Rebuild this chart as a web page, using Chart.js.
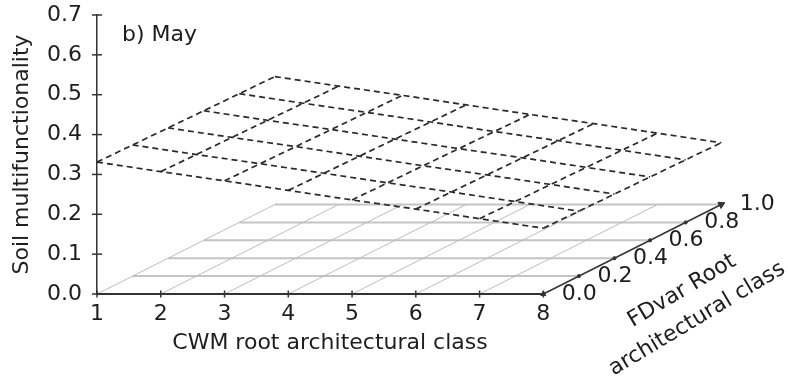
<!DOCTYPE html>
<html>
<head>
<meta charset="utf-8">
<script src="https://cdn.jsdelivr.net/npm/chart.js@4"></script>
<style>
  html, body { margin: 0; padding: 0; background: #fff; }
</style>
</head>
<body>
<canvas id="chart" width="788" height="380"></canvas>
<script>
// values
const cwmClasses = [1, 2, 3, 4, 5, 6, 7, 8];
const fdValues = [0, 0.2, 0.4, 0.6, 0.8, 1.0];
const fdTickLabels = ['0.0', '0.2', '0.4', '0.6', '0.8', '1.0'];
const yTickValues = [0, 0.1, 0.2, 0.3, 0.4, 0.5, 0.6, 0.7];

// fitted surface, one row per FDvar value, one value per CWM class
const mfFd00 = [0.331, 0.307, 0.284, 0.260, 0.236, 0.213, 0.189, 0.165];
const mfFd02 = [0.329, 0.305, 0.282, 0.258, 0.234, 0.211, 0.187, 0.163];
const mfFd04 = [0.327, 0.303, 0.280, 0.256, 0.232, 0.209, 0.185, 0.161];
const mfFd06 = [0.325, 0.301, 0.278, 0.254, 0.230, 0.207, 0.183, 0.159];
const mfFd08 = [0.323, 0.299, 0.276, 0.252, 0.228, 0.205, 0.181, 0.157];
const mfFd10 = [0.321, 0.297, 0.274, 0.250, 0.226, 0.203, 0.179, 0.155];
const surface = [mfFd00, mfFd02, mfFd04, mfFd06, mfFd08, mfFd10];

// oblique projection of the depth (FDvar) axis, in x / y axis units
const DEPTH_DX = 2.79;
const DEPTH_DY = 0.2245;
const project = (c, f, z) => ({ x: c + f * DEPTH_DX, y: z + f * DEPTH_DY });

const FONT = '"DejaVu Sans", sans-serif';
const TEXT = '#1e1e1e';
const AXIS = '#333';

const lineSet = (data, color, width, dash) => ({
  data, showLine: true, borderColor: color, borderWidth: width,
  borderDash: dash || [], pointRadius: 0, fill: false, clip: false
});
const markSet = (data, style, radius, rotation, width) => ({
  data, showLine: false, pointStyle: style, pointRadius: radius, rotation,
  borderColor: AXIS, backgroundColor: AXIS, borderWidth: width, clip: false
});

const layers = [];
const first = cwmClasses[0], last = cwmClasses[cwmClasses.length - 1];

// floor grid
fdValues.slice(1).forEach(f => {
  layers.push(lineSet([project(first, f, 0), project(last, f, 0)], '#c4c4c4', 2));
});
cwmClasses.slice(0, -1).forEach(c => {
  layers.push(lineSet([project(c, 0, 0), project(c, 1, 0)], '#bcbcbc', 1));
});

// axes drawn on the floor
layers.push(lineSet([project(first, 0, 0), project(last, 0, 0)], AXIS, 2));
layers.push(lineSet([project(last, 0, 0), project(last, 1, 0)], AXIS, 1.5));

// dashed surface
const DASH = [6, 4];
surface.forEach((row, i) => {
  layers.push(lineSet(cwmClasses.map((c, j) => project(c, fdValues[i], row[j])), '#2a2a2a', 1.7, DASH));
});
cwmClasses.forEach((c, j) => {
  layers.push(lineSet(fdValues.map((f, i) => project(c, f, surface[i][j])), '#2a2a2a', 1.7, DASH));
});

// tick marks
layers.push(markSet(cwmClasses.map(c => ({ x: c, y: 0 })), 'line', 3.5, 90, 1.5));
layers.push(markSet(yTickValues.map(v => ({ x: first, y: v })), 'line', 5, 0, 1.5));
layers.push(markSet(fdValues.slice(1, -1).map(f => project(last, f, 0)), 'circle', 1.6, 0, 1));
layers.push(markSet([project(last, 1, 0)], 'triangle', 4, 63.3, 1));
layers.push(markSet([project(last, 0, 0)], 'triangle', 3, 243.3, 1));

const textPlugin = {
  id: 'texts',
  afterDraw(chart) {
    const { ctx, scales: { x, y } } = chart;
    ctx.save();
    ctx.fillStyle = TEXT;
    ctx.font = '22px ' + FONT;
    ctx.textBaseline = 'middle';

    ctx.textAlign = 'left';
    ctx.fillText('b) May', 122, 35);

    ctx.textAlign = 'center';
    ctx.fillText('CWM root architectural class', 330, 343);

    fdValues.forEach((f, i) => {
      const p = project(last, f, 0);
      ctx.fillText(fdTickLabels[i], x.getPixelForValue(p.x) + 36, y.getPixelForValue(p.y));
    });

    const ang = -31 * Math.PI / 180;
    [['FDvar Root', 682, 291], ['architectural class', 697, 319]].forEach(([t, tx, ty]) => {
      ctx.save();
      ctx.translate(tx, ty);
      ctx.rotate(ang);
      ctx.fillText(t, 0, 0);
      ctx.restore();
    });
    ctx.restore();
  }
};

new Chart(document.getElementById('chart'), {
  type: 'scatter',
  data: { datasets: layers.reverse() },
  options: {
    responsive: false,
    animation: false,
    layout: { padding: { left: 0, right: 21.5, top: 15, bottom: 0 } },
    plugins: { legend: { display: false }, tooltip: { enabled: false } },
    scales: {
      x: {
        type: 'linear', min: 1, max: 11.5,
        afterBuildTicks: s => { s.ticks = cwmClasses.map(v => ({ value: v })); },
        afterFit: s => { s.height = 86; s.paddingLeft = 0; s.paddingRight = 0; },
        grid: { display: false, drawTicks: false },
        border: { display: false },
        ticks: { padding: 7, color: TEXT, font: { family: FONT, size: 22 }, maxRotation: 0 }
      },
      y: {
        type: 'linear', min: 0, max: 0.7,
        afterBuildTicks: s => { s.ticks = yTickValues.map(v => ({ value: v })); },
        afterFit: s => { s.width = 97; s.paddingTop = 0; s.paddingBottom = 0; },
        grid: { display: false, drawTicks: false },
        border: { display: true, color: AXIS, width: 1.5 },
        ticks: {
          padding: 15, color: TEXT, font: { family: FONT, size: 22 },
          callback: v => v.toFixed(1)
        },
        title: {
          display: true, text: 'Soil multifunctionality', color: TEXT,
          font: { family: FONT, size: 22 }, padding: { top: 9, bottom: 0 }
        }
      }
    }
  },
  plugins: [textPlugin]
});
</script>
</body>
</html>
